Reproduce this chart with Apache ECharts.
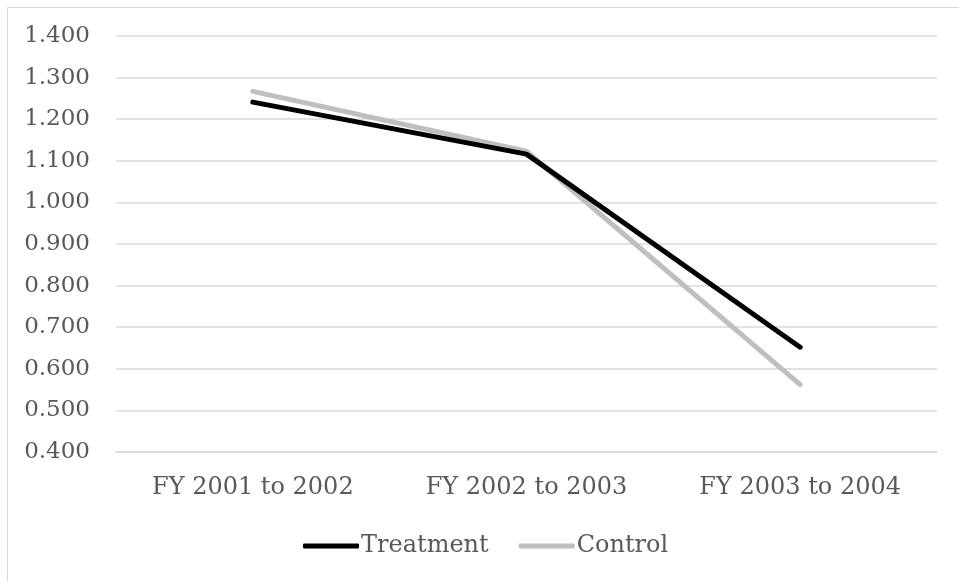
<!DOCTYPE html>
<html>
<head>
<meta charset="utf-8">
<script src="https://cdn.jsdelivr.net/npm/echarts@6/dist/echarts.min.js"></script>
<style>
  html, body { margin: 0; padding: 0; background: #fff; }
  #chart { width: 959px; height: 581px; }
</style>
</head>
<body>
<div id="chart"></div>
<script>
const categories = ["FY 2001 to 2002", "FY 2002 to 2003", "FY 2003 to 2004"];
const treatment = [1.241, 1.116, 0.652];
const control = [1.267, 1.123, 0.562];

const font = "DejaVu Serif";
const textColor = "#595959";

let myChart = echarts.init(document.getElementById("chart"));
let option = {
  animation: false,
  textStyle: { fontFamily: font },
  graphic: [
    {
      type: "rect",
      shape: { x: 7.5, y: 7.5, width: 960, height: 580 },
      style: { fill: "none", stroke: "#d9d9d9", lineWidth: 1 },
      silent: true
    }
  ],
  grid: { left: 116, right: 22, top: 36, bottom: 129 },
  legend: {
    data: ["Treatment", "Control"],
    top: 529,
    left: 298,
    icon: "roundRect",
    itemWidth: 56,
    itemHeight: 5,
    itemGap: 30,
    textStyle: { fontFamily: font, fontSize: 24, color: textColor, padding: [0, 0, 0, -3] }
  },
  xAxis: {
    type: "category",
    data: categories,
    boundaryGap: true,
    axisLine: { lineStyle: { color: "#d9d9d9", width: 1.5 } },
    axisTick: { show: false },
    axisLabel: { fontFamily: font, fontSize: 24, color: textColor, margin: 24 }
  },
  yAxis: {
    type: "value",
    min: 0.4,
    max: 1.4,
    interval: 0.1,
    axisLine: { show: false },
    axisTick: { show: false },
    splitLine: { lineStyle: { color: "#d9d9d9", width: 1.5 } },
    axisLabel: {
      fontFamily: font,
      fontSize: 23,
      color: textColor,
      margin: 26,
      formatter: function (v) { return v.toFixed(3); }
    }
  },
  series: [
    {
      name: "Treatment",
      type: "line",
      data: treatment,
      symbol: "none",
      itemStyle: { color: "#000000" },
      lineStyle: { color: "#000000", width: 5, cap: "round", join: "round" },
      z: 3
    },
    {
      name: "Control",
      type: "line",
      data: control,
      symbol: "none",
      itemStyle: { color: "#bfbfbf" },
      lineStyle: { color: "#bfbfbf", width: 5, cap: "round", join: "round" },
      z: 2
    }
  ]
};
myChart.setOption(option);
</script>
</body>
</html>
